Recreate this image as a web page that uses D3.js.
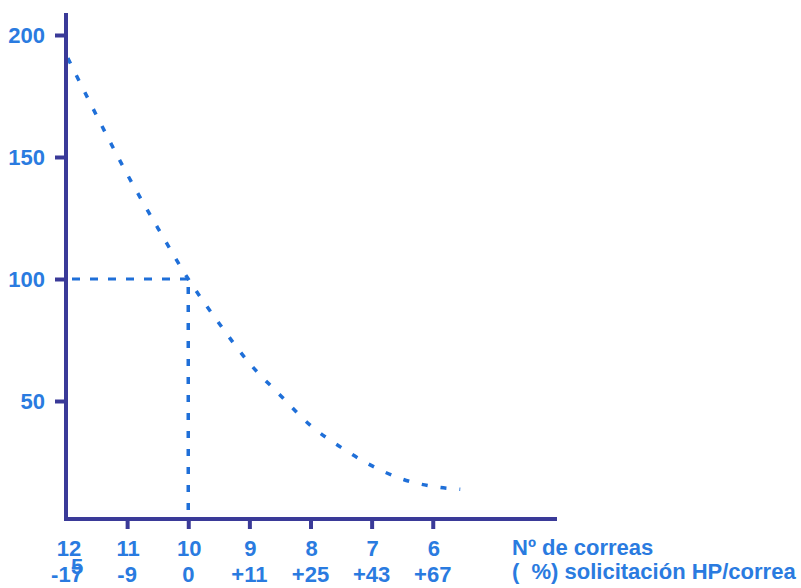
<!DOCTYPE html>
<html><head><meta charset="utf-8">
<script src="https://cdn.jsdelivr.net/npm/d3@7"></script>
<style>body{margin:0;background:#fff}svg{display:block}
text{font-family:"Liberation Sans","Arial",sans-serif;font-weight:bold;fill:#2a7be0;white-space:pre}</style>
</head><body><svg id="c" width="801" height="588"></svg>
<script>
const belts = [12, 11.5, 11, 10.5, 10, 9.5, 9, 8.5, 8, 7.5, 7, 6.5, 6, 5.55];
const life = [192, 167, 143, 121, 100, 82, 65.5, 52.5, 40, 31, 23.5, 18, 15, 13.8];
const xTicks = [12, 11, 10, 9, 8, 7, 6];
const pctLabels = ["-17", "-9", "0", "+11", "+25", "+43", "+67"];
const yTicks = [200, 150, 100, 50];
const refPoint = {belts: 10, life: 100};

const svg = d3.select("#c");
const x = d3.scaleLinear().domain([12, 4]).range([66, 555]);
const y = d3.scaleLinear().domain([0, 200]).range([523, 35]);
const axisCol = "#3a3a98", lineCol = "#1f6fd8";
const fs = 22;

// reference dashed lines
svg.append("line").attr("x1", x(12) + 6).attr("x2", x(refPoint.belts))
  .attr("y1", y(refPoint.life)).attr("y2", y(refPoint.life))
  .attr("stroke", lineCol).attr("stroke-width", 3).attr("stroke-dasharray", "8,10");
svg.append("line").attr("x1", x(refPoint.belts)).attr("x2", x(refPoint.belts))
  .attr("y1", y(refPoint.life) + 8).attr("y2", 519)
  .attr("stroke", lineCol).attr("stroke-width", 3.5).attr("stroke-dasharray", "7,11");

// curve
const data = belts.map((b, i) => [b, life[i]]);
svg.append("path").datum(data)
  .attr("d", d3.line().x(d => x(d[0])).y(d => y(d[1])).curve(d3.curveMonotoneX))
  .attr("fill", "none").attr("stroke", lineCol).attr("stroke-width", 3.5)
  .attr("stroke-dasharray", "6,13").attr("stroke-dashoffset", -4);

// axes
const gy = svg.append("g").attr("transform", "translate(66,0)")
  .call(d3.axisLeft(y).tickValues(yTicks).tickSize(11).tickPadding(10));
gy.select(".domain").remove();
gy.attr("font-family", null).attr("font-size", null);
gy.selectAll(".tick line").attr("stroke", axisCol).attr("stroke-width", 4);
gy.selectAll(".tick text").attr("font-size", fs).attr("fill", null);

const gx = svg.append("g").attr("transform", "translate(0,519)")
  .call(d3.axisBottom(x).tickValues(xTicks.slice(1)).tickSize(10).tickFormat(""));
gx.select(".domain").remove();
gx.selectAll(".tick line").attr("stroke", axisCol).attr("stroke-width", 4);

svg.append("line").attr("x1", 66).attr("x2", 66).attr("y1", 13).attr("y2", 521)
  .attr("stroke", axisCol).attr("stroke-width", 4);
svg.append("line").attr("x1", 64).attr("x2", 557).attr("y1", 519).attr("y2", 519)
  .attr("stroke", axisCol).attr("stroke-width", 4);

// x labels
svg.selectAll("text.n").data(xTicks).join("text").attr("class", "n")
  .attr("x", d => x(d) + (d === 12 ? 3 : 1)).attr("y", 556).attr("text-anchor", "middle")
  .attr("font-size", fs).text(d => d);
svg.selectAll("text.p").data(pctLabels).join("text").attr("class", "p")
  .attr("x", (d, i) => x(xTicks[i]) + (i === 0 ? 1 : 0)).attr("y", 582).attr("text-anchor", "middle")
  .attr("font-size", fs).text(d => d);
svg.append("text").attr("x", x(12) + 11).attr("y", 574).attr("text-anchor", "middle")
  .attr("font-size", fs).text("5");

svg.append("text").attr("x", 512).attr("y", 555).attr("font-size", fs).text("Nº de correas");
svg.append("text").attr("x", 512).attr("y", 579).attr("font-size", fs).text("(  %) solicitación HP/correa");
</script></body></html>
